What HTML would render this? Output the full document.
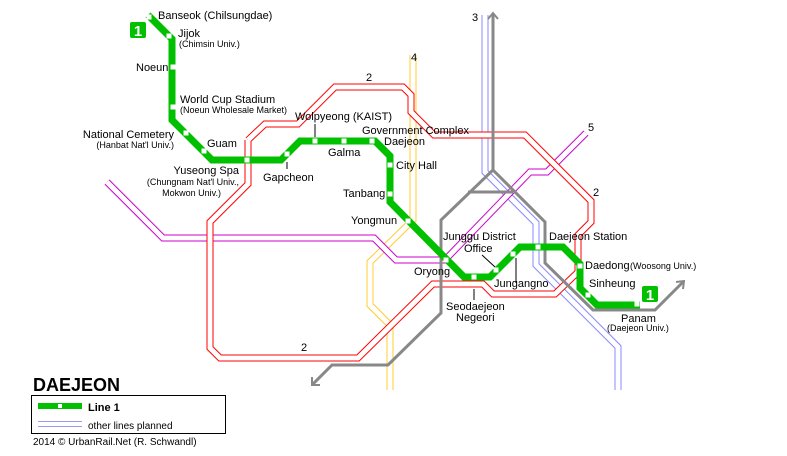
<!DOCTYPE html>
<html><head><meta charset="utf-8"><style>
html,body{margin:0;padding:0;background:#fff;}
svg{display:block;font-family:"Liberation Sans",Arial,sans-serif;}
.t{font-size:11px;fill:#000;}
.s{font-size:9px;fill:#000;}
</style></head><body>
<svg id="map" width="787" height="456" viewBox="0 0 787 456" xmlns="http://www.w3.org/2000/svg">
<g id="planned"></g>
<g id="grey"></g>
<g id="line1"></g>
<g id="labels"></g>
<g>
 <text x="33" y="391" style="font-size:18px;font-weight:bold">DAEJEON</text>
 <rect x="31.5" y="395.5" width="194" height="38" fill="none" stroke="#000" stroke-width="1"/>
 <rect x="38" y="403" width="44" height="6" fill="#00c000"/>
 <rect x="58" y="404" width="4" height="4" fill="#fff"/>
 <text x="88" y="411" style="font-size:11px;font-weight:bold">Line 1</text>
 <line x1="38" y1="421.5" x2="82" y2="421.5" stroke="#9999ee"/>
 <line x1="38" y1="426.5" x2="82" y2="426.5" stroke="#9999ee"/>
 <text x="88" y="429" class="s" style="font-size:10px">other lines planned</text>
 <text x="33" y="445" class="s" style="font-size:10px">2014 © UrbanRail.Net (R. Schwandl)</text>
</g>
</svg>
<script>
const NS="http://www.w3.org/2000/svg";
const line2=[[248,140],[265,124],[298,124],[335,87],[403,87],[411,95],[411,112],[434,135],[525,135],[591,201],[591,222],[578,235],[578,272],[555,294],[493,294],[483,284],[433,284],[358,358],[220,358],[210,348],[210,222],[248,184],[248,140]];
const line5=[[107,182],[163,238],[374,238],[396,260],[445,260],[530,172],[547,172],[586,133]];
const line4=[[413,55],[413,220],[370,262],[370,305],[390,325],[390,390]];
const line3=[[485,15],[485,172],[536,223],[536,265],[618,347],[618,390]];
const grey1=[[493,14],[493,170],[441,220],[441,313],[388,365],[332,365],[313,384]];
const grey2=[[493,170],[545,222],[545,263],[593,310],[655,310],[683,282]];
const greyBar=[[468,192],[513,192]];
const green=[[148,15],[172,39],[172,120],[212,160],[281,160],[300,141],[375,141],[390,156],[390,202],[464,277],[490,277],[520,247],[563,247],[580,264],[580,288],[597,305],[640,305]];
const stations=[[149,17],[169,36],[173,67],[173,107],[186,133],[204,151],[247,160],[287,154],[315,141],[344,141],[372,141],[390,165],[390,194],[408,221],[446,260],[474,277],[496,270],[513,254],[538,247],[580,266],[588,295],[637,304]];
function pts(a){return a.map(p=>p.join(',')).join(' ');}
function pl(g,a,col,w,name){const e=document.createElementNS(NS,'polyline');e.setAttribute('points',pts(a));e.setAttribute('fill','none');e.setAttribute('stroke',col);e.setAttribute('stroke-width',w);e.setAttribute('stroke-linejoin','miter');


document.getElementById(g).appendChild(e);return e;}
function dbl(a,col,name){pl('planned',a,col,7,name);pl('planned',a,'#fff',5,name+'-inner');}
dbl(line3,'#8888ff','line-3');
dbl(line4,'#ffcc33','line-4');
dbl(line5,'#cc00cc','line-5');
dbl(line2,'#ff0000','line-2');
pl('grey',grey1,'#888',3,'rail-west');
pl('grey',grey2,'#888',3,'rail-east');
pl('grey',greyBar,'#888',3,'rail-link');
pl('grey',[[488,19],[493,13],[498,19]],'#888',2,'arrow-north');
pl('grey',[[312,377],[312,385],[320,385]],'#888',2,'arrow-southwest');
pl('grey',[[676,282],[684,281],[683,289]],'#888',2,'arrow-northeast');
pl('line1',green,'#00c000',7,'line-1-track');
for(const s of stations){const r=document.createElementNS(NS,'rect');r.setAttribute('x',s[0]-2.5);r.setAttribute('y',s[1]-2.5);r.setAttribute('width',5);r.setAttribute('height',5);r.setAttribute('fill','#fff');


document.getElementById('line1').appendChild(r);}
const L=document.getElementById('labels');
function tx(x,y,t,c,cls,anchor,name){const e=document.createElementNS(NS,'text');e.setAttribute('x',x);e.setAttribute('y',y);e.setAttribute('class',cls||'t');if(c)e.setAttribute('fill',c);if(anchor)e.setAttribute('text-anchor',anchor);e.textContent=t;


L.appendChild(e);}
function badge(x,y,name){const r=document.createElementNS(NS,'rect');r.setAttribute('x',x);r.setAttribute('y',y);r.setAttribute('width',16);r.setAttribute('height',16);r.setAttribute('rx',2);r.setAttribute('fill','#00c000');


L.appendChild(r);const t=document.createElementNS(NS,'text');t.setAttribute('x',x+8);t.setAttribute('y',y+14);t.setAttribute('text-anchor','middle');t.setAttribute('fill','#fff');t.setAttribute('style','font-size:15px;font-weight:bold');t.textContent='1';


L.appendChild(t);}
function tick(x1,y1,x2,y2){const e=document.createElementNS(NS,'line');e.setAttribute('x1',x1);e.setAttribute('y1',y1);e.setAttribute('x2',x2);e.setAttribute('y2',y2);e.setAttribute('stroke','#000');


L.appendChild(e);}
badge(130,22,'line-1-badge-north');badge(642,286,'line-1-badge-east');
tx(158,19,'Banseok (Chilsungdae)');
tx(178,37,'Jijok');tx(179,47,'(Chimsin Univ.)','','s');
tx(136,71,'Noeun');
tx(180,103,'World Cup Stadium');tx(180,113,'(Noeun Wholesale Market)','','s');
tx(174,138,'National Cemetery','','t','end');tx(174,148,"(Hanbat Nat'l Univ.)",'','s','end');
tx(207,147,'Guam');
tx(239,174,'Yuseong Spa','','t','end');tx(239,185,"(Chungnam Nat'l Univ.,",'','s','end');tx(221,196,'Mokwon Univ.)','','s','end');
tx(263,181,'Gapcheon');tick(287,162,287,169);
tx(295,120,'Wolpyeong (KAIST)');tick(315,124,315,137);
tx(328,156,'Galma');
tx(362,134,'Government Complex');tx(384,145,'Daejeon');
tx(396,169,'City Hall');
tx(343,197,'Tanbang');
tx(351,224,'Yongmun');
tx(443,240,'Junggu District');tx(464,252,'Office');tick(482,255,495,267);
tx(414,275,'Oryong');
tx(494,287,'Jungangno');tick(516,258,516,283);
tx(446,310,'Seodaejeon');tx(456,321,'Negeori');tick(474,289,474,300);
tx(549,240,'Daejeon Station');
tx(585,269,'Daedong');tx(630,269,'(Woosong Univ.)','','s');
tx(589,287,'Sinheung');
tx(621,322,'Panam');tx(607,331,'(Daejeon Univ.)','','s');
tx(366,81,'2','#ff0000');tx(593,196,'2','#ff0000');tx(301,351,'2','#ff0000');
tx(472,21,'3','#8888ff');tx(411,61,'4','#ffcc33');tx(588,131,'5','#cc00cc');
</script>
</body></html>
